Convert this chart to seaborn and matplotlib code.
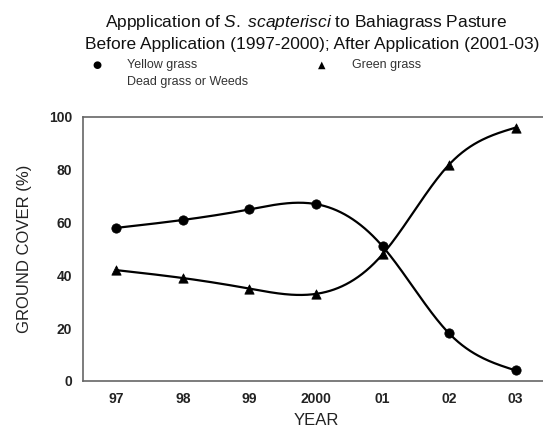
import numpy as np
import pandas as pd
import matplotlib
matplotlib.use("Agg")
import matplotlib.pyplot as plt
import seaborn as sns

years = ["97", "98", "99", "2000", "01", "02", "03"]
yellow = [58, 61, 65, 67, 51, 18, 4]
green = [42, 39, 35, 33, 48, 82, 96]
yticks = [0, 20, 40, 60, 80, 100]

sns.set_style("white")
plt.rcParams["font.family"] = ["Liberation Sans", "DejaVu Sans"]
plt.rcParams["mathtext.fontset"] = "custom"
plt.rcParams["mathtext.it"] = "Liberation Sans:italic"
plt.rcParams["mathtext.rm"] = "Liberation Sans"


def natural_spline(x, y, n=300):
    x = np.asarray(x, float); y = np.asarray(y, float)
    k = len(x)
    h = np.diff(x)
    A = np.zeros((k, k)); b = np.zeros(k)
    A[0, 0] = A[-1, -1] = 1
    for i in range(1, k - 1):
        A[i, i - 1] = h[i - 1]; A[i, i] = 2 * (h[i - 1] + h[i]); A[i, i + 1] = h[i]
        b[i] = 3 * ((y[i + 1] - y[i]) / h[i] - (y[i] - y[i - 1]) / h[i - 1])
    c = np.linalg.solve(A, b)
    xs = np.linspace(x[0], x[-1], n)
    idx = np.clip(np.searchsorted(x, xs) - 1, 0, k - 2)
    dx = xs - x[idx]
    bb = (y[idx + 1] - y[idx]) / h[idx] - h[idx] * (2 * c[idx] + c[idx + 1]) / 3
    d = (c[idx + 1] - c[idx]) / (3 * h[idx])
    ys = y[idx] + bb * dx + c[idx] * dx ** 2 + d * dx ** 3
    return xs, ys


xpos = np.arange(len(years))
fig = plt.figure(figsize=(5.43, 4.30), dpi=100)
ax = fig.add_axes([83 / 543, 1 - 381 / 430, (549 - 83) / 543, (381 - 117) / 430])

for vals, mk in [(yellow, "o"), (green, "^")]:
    xs, ys = natural_spline(xpos, vals)
    sns.lineplot(x=xs, y=ys, ax=ax, color="black", lw=1.6, sort=False)
    sns.scatterplot(x=xpos, y=vals, ax=ax, marker=mk, color="black", s=45,
                    edgecolor="black", zorder=5)

ax.set_xlim(-0.5, 6.5)
ax.set_ylim(0, 100)
ax.set_xticks(xpos)
ax.set_xticklabels(years)
ax.set_yticks(yticks)
ax.tick_params(direction="in", length=4, width=0.8, color="#555555",
               labelsize=10, labelcolor="#222222", pad=8)
for lab in ax.get_xticklabels() + ax.get_yticklabels():
    lab.set_fontweight("bold")
for s in ax.spines.values():
    s.set_color("#666666"); s.set_linewidth(1.2)
ax.set_xlabel("YEAR", fontsize=12, color="#222222", labelpad=5)
ax.set_ylabel("GROUND COVER (%)", fontsize=12, color="#222222", labelpad=12)

fig.text(306 / 543, 1 - 22 / 430,
         r"Appplication of $\it{S.\ scapterisci}$ to Bahiagrass Pasture",
         ha="center", va="center", fontsize=12.5, color="#111111")
fig.text(312 / 543, 1 - 45 / 430,
         "Before Application (1997-2000); After Application (2001-03)",
         ha="center", va="center", fontsize=12.5, color="#111111")

fig.text(97 / 543, 1 - 65 / 430, "\u25CF", ha="center", va="center", fontsize=7.5, color="black",
         family=["DejaVu Sans"])
fig.text(127 / 543, 1 - 65 / 430, "Yellow grass", ha="left", va="center", fontsize=9, color="#333333")
fig.text(127 / 543, 1 - 82 / 430, "Dead grass or Weeds", ha="left", va="center", fontsize=9, color="#333333")
fig.text(322 / 543, 1 - 65 / 430, "\u25B2", ha="center", va="center", fontsize=7, color="black",
         family=["DejaVu Sans"])
fig.text(352 / 543, 1 - 65 / 430, "Green grass", ha="left", va="center", fontsize=9, color="#333333")

fig.savefig("out.png", dpi=100)
